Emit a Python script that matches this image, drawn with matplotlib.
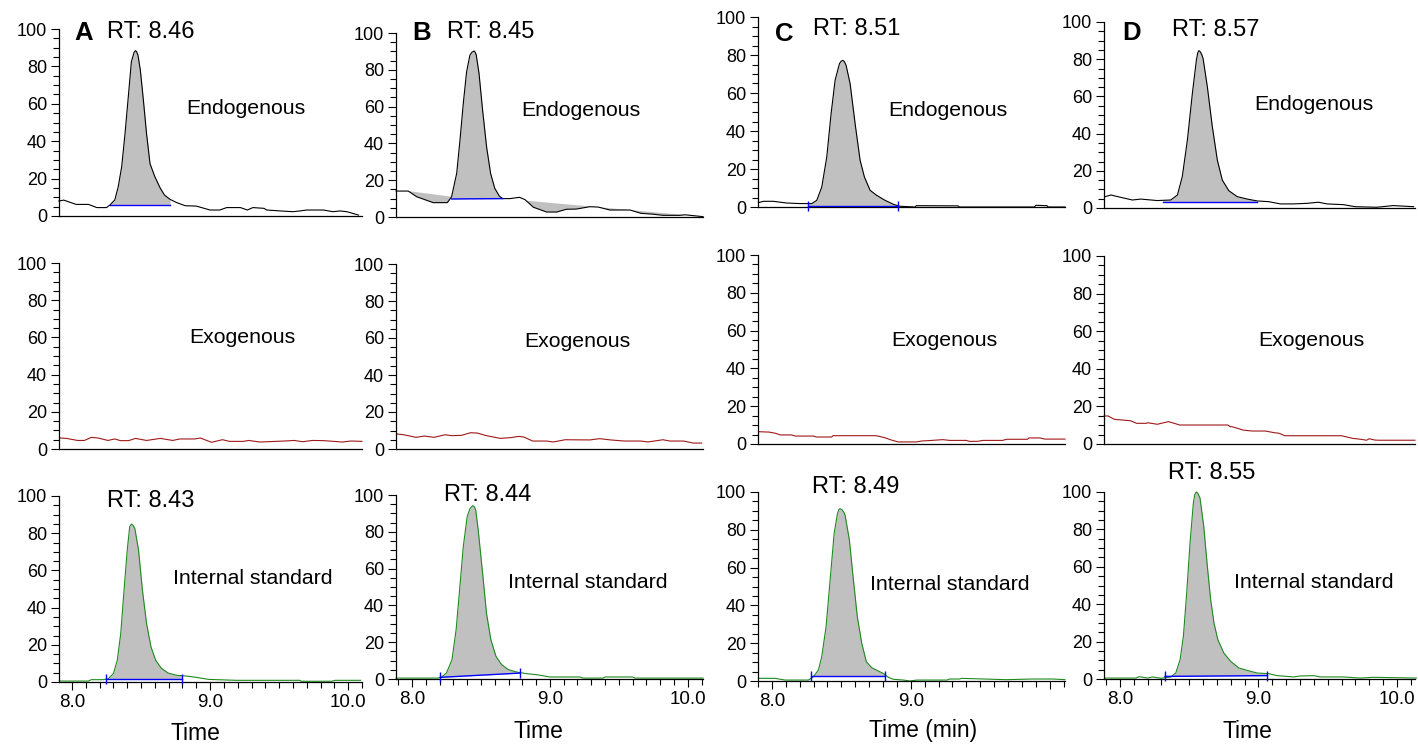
import numpy as np
import matplotlib
matplotlib.use("Agg")
import matplotlib.pyplot as plt
from matplotlib.ticker import MultipleLocator, FixedLocator

plt.rcParams['font.family'] = ['Liberation Sans', 'DejaVu Sans']

# ---- chromatogram traces: (time [min], relative abundance [%]) ----
a_endo = [(7.905, 8.0), (7.94, 8.5), (8.03, 6.2), (8.12, 6.2), (8.18, 4.5), (8.25, 4.5),
          (8.275, 5.9), (8.31, 8.6), (8.335, 15.7), (8.36, 26.4), (8.384, 44), (8.41, 65.6),
          (8.43, 82.5), (8.45, 87.6), (8.46, 88.4), (8.468, 87.8), (8.478, 86), (8.495, 78),
          (8.517, 62), (8.54, 44), (8.565, 28), (8.60, 21), (8.64, 14.8), (8.67, 11.2),
          (8.71, 8.9), (8.76, 7.1), (8.82, 5.5), (8.90, 5.3), (9.0, 3.2), (9.07, 3.2),
          (9.12, 4.5), (9.22, 4.5), (9.27, 3.2), (9.31, 4.5), (9.39, 4.1), (9.41, 3.2),
          (9.51, 2.7), (9.60, 2.3), (9.65, 2.7), (9.70, 3.2), (9.82, 3.2), (9.89, 2.3),
          (9.94, 2.7), (9.99, 2.3), (10.075, 0.5)]
b_endo = [(7.884, 14.1), (7.973, 14.1), (8.034, 11.0), (8.154, 7.8), (8.256, 7.8),
          (8.287, 11.0), (8.324, 23.7), (8.348, 41.8), (8.372, 61.8), (8.396, 79), (8.42, 88),
          (8.435, 89.6), (8.45, 90.2), (8.458, 89.6), (8.466, 88), (8.486, 78), (8.512, 58),
          (8.541, 38), (8.57, 23.7), (8.60, 15.6), (8.633, 11.4), (8.657, 10), (8.71, 10),
          (8.78, 10.7), (8.82, 9.4), (8.88, 5.3), (8.976, 2.7), (9.05, 2.7), (9.12, 4.2),
          (9.19, 4.3), (9.29, 5.6), (9.35, 5.4), (9.435, 3.8), (9.58, 3.8), (9.66, 2.0),
          (9.75, 1.5), (9.82, 0.9), (9.94, 0.9), (9.98, 1.2), (10.11, 0.2)]
c_endo = [(7.903, 2.3), (7.94, 3.0), (8.01, 3.0), (8.107, 2.1), (8.203, 1.8), (8.287, 1.8),
          (8.323, 3.5), (8.359, 10.5), (8.395, 26.3), (8.426, 49), (8.455, 66.7), (8.486, 75.4),
          (8.498, 76.7), (8.51, 77.2), (8.522, 76.5), (8.534, 74.6), (8.563, 65), (8.599, 43.9),
          (8.635, 24.6), (8.666, 15.8), (8.707, 8.8), (8.755, 6.1), (8.815, 3.5), (8.875, 1.4),
          (8.92, 0.4), (9.03, 0.0), (9.04, 0.7), (9.34, 0.6), (9.35, 0.0), (9.89, 0.0),
          (9.90, 0.9), (9.98, 0.7), (9.99, 0.0), (10.11, 0.0)]
d_endo = [(7.894, 6.1), (7.935, 7.0), (8.007, 5.7), (8.09, 4.3), (8.15, 4.8), (8.27, 4.0),
          (8.367, 4.3), (8.415, 7.0), (8.45, 16.8), (8.487, 36.6), (8.523, 61.7), (8.552, 79.6),
          (8.562, 83.5), (8.57, 84.6), (8.58, 84.0), (8.59, 82.6), (8.60, 80.5), (8.631, 65.2),
          (8.667, 43.7), (8.703, 25.8), (8.739, 15), (8.786, 9.3), (8.847, 6.1), (8.919, 4.8),
          (8.99, 3.8), (9.074, 3.4), (9.158, 2.2), (9.254, 2.2), (9.35, 2.5), (9.434, 3.1),
          (9.494, 2.2), (9.614, 1.8), (9.698, 0.7), (9.854, 0.4), (9.973, 1.3), (10.12, 0.7)]

a_exo = [(7.911, 5.9), (7.96, 5.7), (8.04, 4.6), (8.09, 4.6), (8.14, 6.25), (8.19, 5.9),
         (8.26, 4.6), (8.31, 5.4), (8.35, 4.5), (8.41, 4.5), (8.46, 5.7), (8.54, 4.6),
         (8.64, 5.7), (8.73, 4.6), (8.78, 5.4), (8.89, 5.4), (8.93, 5.9), (9.01, 3.6),
         (9.09, 5.0), (9.14, 4.1), (9.24, 4.1), (9.28, 4.6), (9.36, 3.75), (9.54, 4.3),
         (9.61, 4.6), (9.67, 3.9), (9.74, 4.6), (9.82, 4.5), (9.96, 3.75), (10.02, 4.3),
         (10.10, 4.1)]
b_exo = [(7.893, 8.1), (7.94, 7.7), (8.03, 6.3), (8.09, 7.0), (8.16, 6.3), (8.24, 7.7),
         (8.29, 7.2), (8.36, 7.4), (8.425, 8.8), (8.475, 8.6), (8.54, 7.2), (8.64, 5.75),
         (8.71, 6.1), (8.775, 6.8), (8.81, 6.5), (8.875, 4.3), (8.975, 4.3), (9.025, 3.8),
         (9.11, 5.0), (9.29, 4.9), (9.36, 5.6), (9.44, 4.9), (9.54, 4.3), (9.66, 4.3),
         (9.71, 3.8), (9.82, 5.0), (9.87, 4.3), (9.97, 4.3), (10.04, 3.2), (10.10, 3.2)]
c_exo = [(7.91, 6.5), (7.98, 6.3), (8.03, 5.6), (8.06, 4.8), (8.14, 4.8), (8.17, 4.2),
         (8.30, 4.2), (8.32, 3.7), (8.43, 3.7), (8.44, 4.4), (8.75, 4.4), (8.81, 3.4),
         (8.86, 2.1), (8.91, 1.1), (9.04, 1.1), (9.08, 1.6), (9.13, 1.8), (9.23, 2.3),
         (9.28, 1.9), (9.40, 1.9), (9.42, 1.4), (9.48, 1.4), (9.52, 1.9), (9.66, 1.9),
         (9.69, 2.5), (9.84, 2.5), (9.85, 3.2), (9.93, 3.2), (9.965, 2.6), (10.11, 2.6)]
d_exo = [(7.885, 14.9), (7.915, 14.9), (7.96, 13.1), (8.01, 12.8), (8.075, 12.4), (8.12, 11.0),
         (8.19, 11.0), (8.20, 11.3), (8.27, 10.5), (8.35, 11.9), (8.41, 10.6), (8.43, 10.1),
         (8.78, 10.1), (8.795, 9.2), (8.81, 9.2), (8.89, 7.4), (8.955, 6.9), (9.05, 6.9),
         (9.115, 6.0), (9.15, 5.7), (9.19, 4.4), (9.60, 4.4), (9.68, 3.0), (9.74, 2.5),
         (9.78, 2.0), (9.80, 2.8), (9.84, 2.1), (9.87, 2.0), (10.13, 2.0)]

a_is = [(7.908, 0.5), (8.118, 0.5), (8.14, 1.25), (8.227, 1.25), (8.263, 1.8), (8.30, 4.5),
        (8.328, 11.7), (8.353, 26), (8.377, 49.4), (8.40, 70.9), (8.418, 83.5), (8.43, 84.9),
        (8.442, 84.3), (8.455, 82.6), (8.482, 70.9), (8.51, 49.4), (8.54, 31.4), (8.572, 18.9),
        (8.606, 11.7), (8.646, 7.5), (8.695, 4.85), (8.758, 3.6), (8.83, 3.2), (8.90, 2.5),
        (8.99, 1.4), (9.19, 0.9), (9.65, 0.9), (9.66, 0.4), (9.88, 0.4), (9.906, 0.9),
        (10.09, 0.9)]
b_is = [(7.884, 0.5), (8.19, 0.5), (8.215, 1.1), (8.25, 3.3), (8.29, 10.5), (8.32, 26.8),
        (8.343, 46.7), (8.372, 72), (8.40, 88.2), (8.42, 92.6), (8.44, 94.2), (8.452, 93.6),
        (8.462, 91.9), (8.48, 81), (8.512, 57.5), (8.54, 35.8), (8.572, 21.3), (8.609, 12.3),
        (8.65, 7.8), (8.698, 5.1), (8.759, 3.8), (8.83, 2.9), (8.904, 2.35), (9.0, 1.1),
        (9.217, 1.1), (9.24, 0.5), (9.386, 0.5), (9.40, 1.1), (9.60, 1.1), (9.616, 0.5),
        (10.11, 0.5)]
c_is = [(7.903, 1.4), (8.023, 1.4), (8.095, 0.5), (8.263, 0.5), (8.299, 2.3), (8.335, 5.8),
        (8.359, 12.9), (8.39, 28.7), (8.419, 53.3), (8.448, 78), (8.472, 88.6), (8.482, 90.6),
        (8.49, 91.2), (8.505, 90.6), (8.516, 89.5), (8.527, 87.7), (8.558, 74.5), (8.587, 53.3),
        (8.615, 34), (8.647, 19.9), (8.68, 10.2), (8.719, 7.0), (8.766, 5.3), (8.802, 4.0),
        (8.84, 1.9), (8.874, 0.9), (8.946, 0.5), (8.994, 0.0), (9.043, 0.5), (9.26, 0.5),
        (9.28, 1.05), (9.35, 1.05), (9.366, 1.4), (9.69, 0.7), (9.87, 1.05), (10.025, 1.05),
        (10.11, 0.7)]
d_is = [(7.894, 0.5), (8.115, 0.5), (8.139, 1.25), (8.20, 0.5), (8.235, 1.1), (8.295, 0.4),
        (8.367, 1.1), (8.403, 3.2), (8.434, 10.3), (8.458, 22.8), (8.482, 46), (8.506, 72.7),
        (8.53, 94.1), (8.54, 98.5), (8.55, 100), (8.562, 99.4), (8.578, 96.8), (8.605, 81.6),
        (8.631, 60.2), (8.655, 42.4), (8.679, 29.9), (8.707, 21), (8.75, 13.9), (8.80, 9.4),
        (8.858, 5.9), (8.919, 4.6), (8.99, 3.2), (9.074, 2.85), (9.134, 1.8), (9.254, 1.1),
        (9.30, 1.6), (9.40, 1.8), (9.446, 1.1), (9.614, 1.1), (9.734, 0.5), (9.83, 0.9),
        (10.14, 0.5)]

# ---- integration baselines: (start, end) time and (start, end) level, end marks ----
a_endo_base = ((8.275, 8.71), (5.9, 5.9), (False, False))
b_endo_base = ((8.287, 8.657), (9.8, 10.0), (False, False))
c_endo_base = ((8.26, 8.91), (0.5, 0.5), (True, True))
d_endo_base = ((8.31, 8.99), (3.2, 3.2), (False, False))
a_is_base = ((8.245, 8.80), (1.8, 1.8), (True, True))
b_is_base = ((8.205, 8.78), (0.9, 3.2), (True, True))
c_is_base = ((8.28, 8.815), (2.6, 2.6), (True, True))
d_is_base = ((8.325, 9.065), (1.4, 1.8), (True, True))

# drifting background line under panel B (time, level)
b_drift_t = [7.973, 8.287, 8.66, 10.11]
b_drift_i = [14.1, 11.0, 10.0, 0.2]

letters = ["A", "B", "C", "D"]
xlabels = ["Time", "Time", "Time (min)", "Time"]
row_names = ["Endogenous", "Exogenous", "Internal standard"]

W, H = 1418, 747
fig = plt.figure(figsize=(W / 100, H / 100), dpi=100)

GRAY = "#c0c0c0"
BLUE = "#0000ff"
TRACE_COLORS = ["#000000", "#a01818", "#1e8a1e"]


def pxfig(x, y):
    return x / W, 1 - y / H


def px_axes(l, r, t, b):
    return fig.add_axes([l / W, 1 - b / H, (r - l) / W, (b - t) / H])


def style(ax, xlim, bottom_row, c10_label=True):
    ax.set_xlim(*xlim)
    ax.set_ylim(0, 100)
    ax.patch.set_alpha(0)
    for s in ("top", "right"):
        ax.spines[s].set_visible(False)
    for s in ("left", "bottom"):
        ax.spines[s].set_linewidth(0.9)
    ax.yaxis.set_major_locator(FixedLocator([0, 20, 40, 60, 80, 100]))
    ax.yaxis.set_minor_locator(MultipleLocator(5))
    ax.tick_params(axis="y", which="major", length=6, width=0.8, pad=2.5, labelsize=13)
    ax.tick_params(axis="y", which="minor", length=4, width=0.8)
    if bottom_row:
        ax.xaxis.set_major_locator(FixedLocator([8.0, 9.0, 10.0]))
        ax.xaxis.set_minor_locator(MultipleLocator(0.1))
        ax.set_xticklabels(["8.0", "9.0", "10.0" if c10_label else ""])
        ax.tick_params(axis="x", which="major", length=5.5, width=0.8, pad=3, labelsize=13.5)
        ax.tick_params(axis="x", which="minor", length=4.5, width=0.8)
    else:
        ax.set_xticks([])
        ax.xaxis.set_minor_locator(FixedLocator([]))


def trace(ax, pts, color):
    t, y = np.array(pts).T
    ax.plot(t, y, color=color, lw=0.8, zorder=2, clip_on=False)
    return t, y


def integrate(ax, t, y, base):
    (t0, t1), (b0, b1), (m0, m1) = base
    inside = (t > t0) & (t < t1)
    tt = np.concatenate([[t0], t[inside], [t1]])
    yy = np.concatenate([[np.interp(t0, t, y)], y[inside], [np.interp(t1, t, y)]])
    bb = b0 + (b1 - b0) * (tt - t0) / (t1 - t0)
    ax.fill_between(tt, yy, bb, color=GRAY, lw=0, zorder=1)
    ax.plot([t0, t1], [b0, b1], color=BLUE, lw=1.0, zorder=3)
    for flag, tx, by in ((m0, t0, b0), (m1, t1, b1)):
        if flag:
            ax.plot([tx], [by], marker="|", color=BLUE, ms=7, mew=1.0, zorder=3, clip_on=False)


def rt_label(t, y):
    return f"RT: {t[np.argmax(y)]:.2f}"


# axes boxes in pixels: left, right, then (top, bottom) per row
boxes = [
    (59, 362, [(29, 216), (263, 449), (496, 682)], (7.906, 10.10)),
    (396, 703, [(33, 217), (264, 449), (495, 679)], (7.884, 10.11)),
    (758, 1065, [(17, 207), (255, 444), (492, 681)], (7.90, 10.11)),
    (1104, 1415, [(22, 208), (256, 444), (492, 679)], (7.885, 10.13)),
]
endo_sets = [a_endo, b_endo, c_endo, d_endo]
exo_sets = [a_exo, b_exo, c_exo, d_exo]
is_sets = [a_is, b_is, c_is, d_is]
endo_bases = [a_endo_base, b_endo_base, c_endo_base, d_endo_base]
is_bases = [a_is_base, b_is_base, c_is_base, d_is_base]

# text anchor points in pixels
letter_pos = [(84, 33), (422, 33), (784, 34), (1132, 33)]
rt_top_pos = [(151, 32), (491, 32), (857, 29), (1216, 30)]
name_pos = [
    [(246, 108), (581, 111), (948, 111), (1314, 105)],
    [(242, 337), (577, 342), (944, 340), (1311, 340)],
    [(253, 578), (588, 583), (950, 584), (1314, 583)],
]
rt_bot_pos = [(151, 501), (488, 495), (856, 487), (1212, 473)]
xlabel_pos = [(195, 734), (538, 731), (923, 731), (1247, 731)]

for col in range(4):
    l, r, rows, xlim = boxes[col]

    # endogenous
    ax = px_axes(l, r, *rows[0])
    style(ax, xlim, False)
    t, y = trace(ax, endo_sets[col], TRACE_COLORS[0])
    if col == 1:
        base = np.interp(t, b_drift_t, b_drift_i)
        sel = (t >= b_drift_t[0]) & (t <= b_drift_t[-1])
        ax.fill_between(t[sel], y[sel], base[sel], where=(y[sel] < base[sel]),
                        interpolate=True, color=GRAY, lw=0, zorder=1)
    integrate(ax, t, y, endo_bases[col])
    fig.text(*pxfig(*rt_top_pos[col]), rt_label(t, y), fontsize=17, ha="center", va="center")

    # exogenous
    ax = px_axes(l, r, *rows[1])
    style(ax, xlim, False)
    trace(ax, exo_sets[col], TRACE_COLORS[1])

    # internal standard
    ax = px_axes(l, r, *rows[2])
    style(ax, xlim, True, c10_label=(col != 2))
    t, y = trace(ax, is_sets[col], TRACE_COLORS[2])
    integrate(ax, t, y, is_bases[col])
    fig.text(*pxfig(*rt_bot_pos[col]), rt_label(t, y), fontsize=17, ha="center", va="center")

    fig.text(*pxfig(*letter_pos[col]), letters[col], fontsize=18.5, fontweight="bold",
             ha="center", va="center")
    for k in range(3):
        fig.text(*pxfig(*name_pos[k][col]), row_names[k], fontsize=15.3, ha="center", va="center")
    fig.text(*pxfig(*xlabel_pos[col]), xlabels[col], fontsize=16.5, ha="center", va="center")

fig.savefig("out.png", dpi=100)
